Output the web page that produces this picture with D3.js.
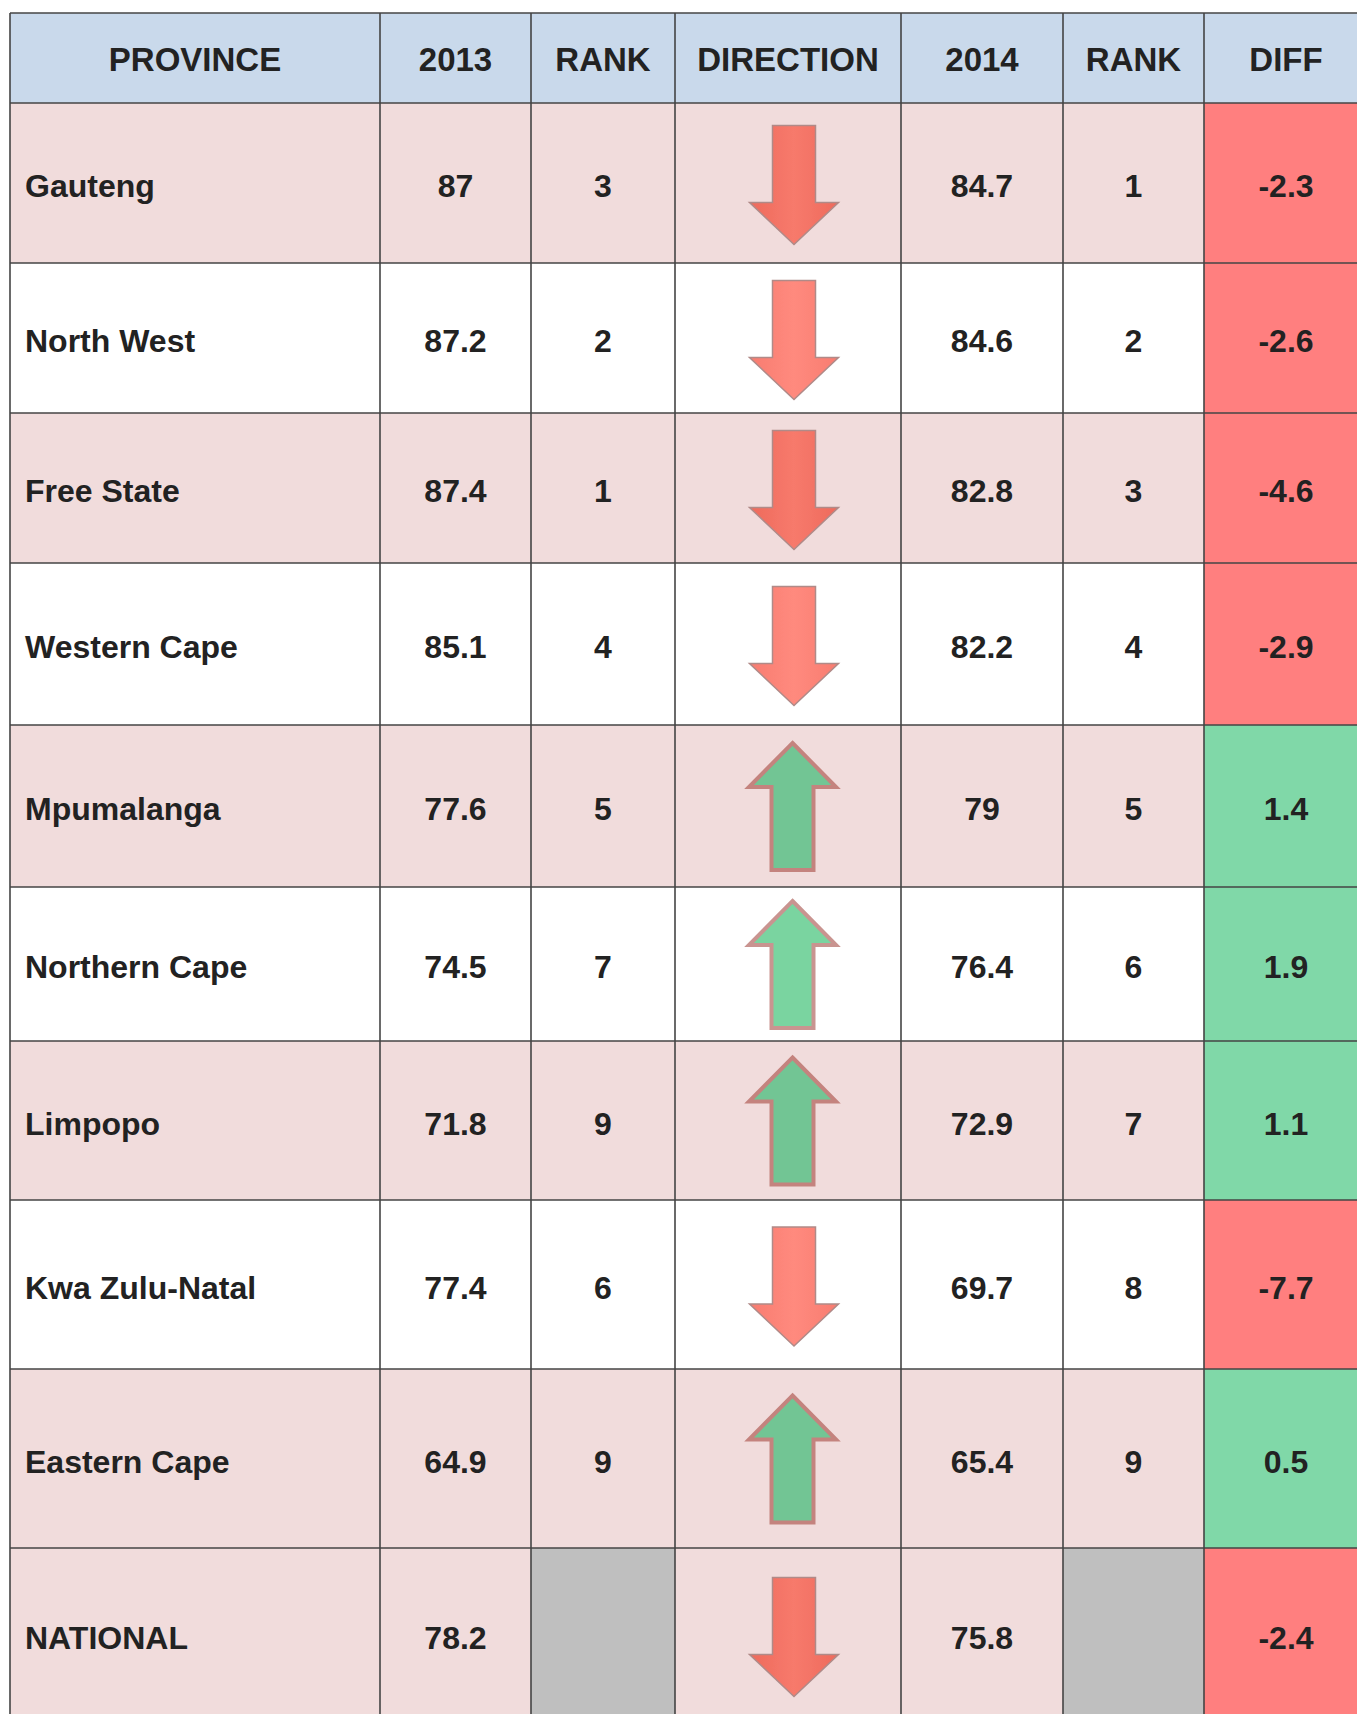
<!DOCTYPE html>
<html>
<head>
<meta charset="utf-8">
<script src="https://cdn.jsdelivr.net/npm/d3@7"></script>
<style>
  body { margin: 0; background: #fff; overflow: hidden; }
  text { font-family: "Liberation Sans", Arial, Helvetica, sans-serif; font-weight: bold; fill: #222; }
</style>
</head>
<body>
<script>
// table data
const headers   = ["PROVINCE", "2013", "RANK", "DIRECTION", "2014", "RANK", "DIFF"];
const provinces = ["Gauteng", "North West", "Free State", "Western Cape", "Mpumalanga",
                   "Northern Cape", "Limpopo", "Kwa Zulu-Natal", "Eastern Cape", "NATIONAL"];
const val2013   = [87, 87.2, 87.4, 85.1, 77.6, 74.5, 71.8, 77.4, 64.9, 78.2];
const rank2013  = [3, 2, 1, 4, 5, 7, 9, 6, 9, null];
const val2014   = [84.7, 84.6, 82.8, 82.2, 79, 76.4, 72.9, 69.7, 65.4, 75.8];
const rank2014  = [1, 2, 3, 4, 5, 6, 7, 8, 9, null];
const diff      = [-2.3, -2.6, -4.6, -2.9, 1.4, 1.9, 1.1, -7.7, 0.5, -2.4];

// layout
const colEdges   = [10, 380, 531, 675, 901, 1063, 1204, 1368];
const top0       = 13;
const headerH    = 90;
const rowHeights = [160, 150, 150, 162, 162, 154, 159, 169, 179, 174];

const W = 1357, H = 1714;
const svg = d3.select("body").append("svg")
    .attr("width", W)
    .attr("height", H);

const defs = svg.append("defs");
function grad(id, edge, mid) {
  const g = defs.append("linearGradient").attr("id", id)
      .attr("x1", "0%").attr("x2", "100%").attr("y1", "0%").attr("y2", "0%");
  g.append("stop").attr("offset", "0%").attr("stop-color", edge);
  g.append("stop").attr("offset", "50%").attr("stop-color", mid);
  g.append("stop").attr("offset", "100%").attr("stop-color", edge);
}
grad("downDark", "#ee6a5c", "#f77a6c");
grad("downLight", "#f87c70", "#ff8a7e");
defs.append("filter").attr("id", "soft")
  .append("feGaussianBlur").attr("stdDeviation", 0.7);

// row positions from heights
const rowTops = [top0 + headerH].concat(Array.from(d3.cumsum(rowHeights), s => top0 + headerH + s));
const x = d3.scaleOrdinal().domain(d3.range(colEdges.length)).range(colEdges);
const colW = i => x(i + 1) - x(i);
const colC = i => (x(i) + x(i + 1)) / 2;

const rows = provinces.map((p, i) => ({
  i, name: p,
  cells: [p, val2013[i], rank2013[i], null, val2014[i], rank2014[i], diff[i]],
  y: rowTops[i], h: rowHeights[i],
  shaded: i % 2 === 0 || i === provinces.length - 1,
  up: diff[i] > 0
}));

// header
const hdr = svg.append("g");
hdr.selectAll("rect").data(headers).enter().append("rect")
    .attr("x", (d, i) => x(i)).attr("y", top0)
    .attr("width", (d, i) => colW(i)).attr("height", headerH)
    .attr("fill", "#c9d9eb");
hdr.selectAll("text").data(headers).enter().append("text")
    .attr("x", (d, i) => colC(i))
    .attr("y", top0 + headerH / 2 + 13)
    .attr("text-anchor", "middle")
    .style("font-size", "33px")
    .text(d => d);

// body rows
const rg = svg.selectAll("g.row").data(rows).enter().append("g").attr("class", "row");

rg.selectAll("rect").data(r => r.cells.map((c, j) => ({ r, c, j }))).enter().append("rect")
    .attr("x", d => x(d.j)).attr("y", d => d.r.y)
    .attr("width", d => colW(d.j)).attr("height", d => d.r.h)
    .attr("fill", d => {
      if (d.j === 6) return d.r.up ? "#80d8a8" : "#ff7f7f";
      if ((d.j === 2 || d.j === 5) && d.c == null) return "#bfbfbf";
      return d.r.shaded ? "#f1dcdc" : "#ffffff";
    });

rg.selectAll("text").data(r => r.cells.map((c, j) => ({ r, c, j })).filter(d => d.c != null)).enter()
  .append("text")
    .attr("x", d => d.j === 0 ? x(0) + 15 : colC(d.j))
    .attr("y", d => d.r.y + d.r.h / 2 + 14)
    .attr("text-anchor", d => d.j === 0 ? "start" : "middle")
    .style("font-size", "32px")
    .text(d => d.c);

// direction arrows
function downArrow(cx, cy) {
  const top = cy - 59.5, hb = top + 77, tip = top + 119;
  return `M${cx - 21.5},${top}H${cx + 21.5}V${hb}H${cx + 44.5}L${cx},${tip}L${cx - 44.5},${hb}H${cx - 21.5}Z`;
}
function upArrow(cx, cy) {
  const tip = cy - 63, hb = tip + 44, bot = tip + 127;
  return `M${cx},${tip}L${cx + 43.5},${hb}H${cx + 21}V${bot}H${cx - 21}V${hb}H${cx - 43.5}Z`;
}
rg.append("path")
    .attr("d", r => r.up ? upArrow(colC(3) + 4.5, r.y + r.h / 2) : downArrow(colC(3) + 6, r.y + r.h / 2 + 2))
    .attr("fill", r => r.up ? (r.shaded ? "#72c594" : "#7ad4a0")
                            : (r.shaded ? "url(#downDark)" : "url(#downLight)"))
    .attr("stroke", r => r.up ? (r.shaded ? "#c4837e" : "#c99490") : "#b08a88")
    .attr("stroke-width", r => r.up ? 4 : 1.5)
    .attr("filter", r => r.up ? null : "url(#soft)");

// grid lines
const bottom = rowTops[rowTops.length - 1];
const grid = svg.append("g").attr("stroke", "#444").attr("stroke-width", 1.6);
grid.selectAll("line.h").data(rowTops.concat([top0])).enter().append("line")
    .attr("x1", colEdges[0]).attr("x2", colEdges[colEdges.length - 1])
    .attr("y1", d => d).attr("y2", d => d);
grid.selectAll("line.v").data(colEdges).enter().append("line")
    .attr("x1", d => d).attr("x2", d => d)
    .attr("y1", top0).attr("y2", bottom);
</script>
</body>
</html>
